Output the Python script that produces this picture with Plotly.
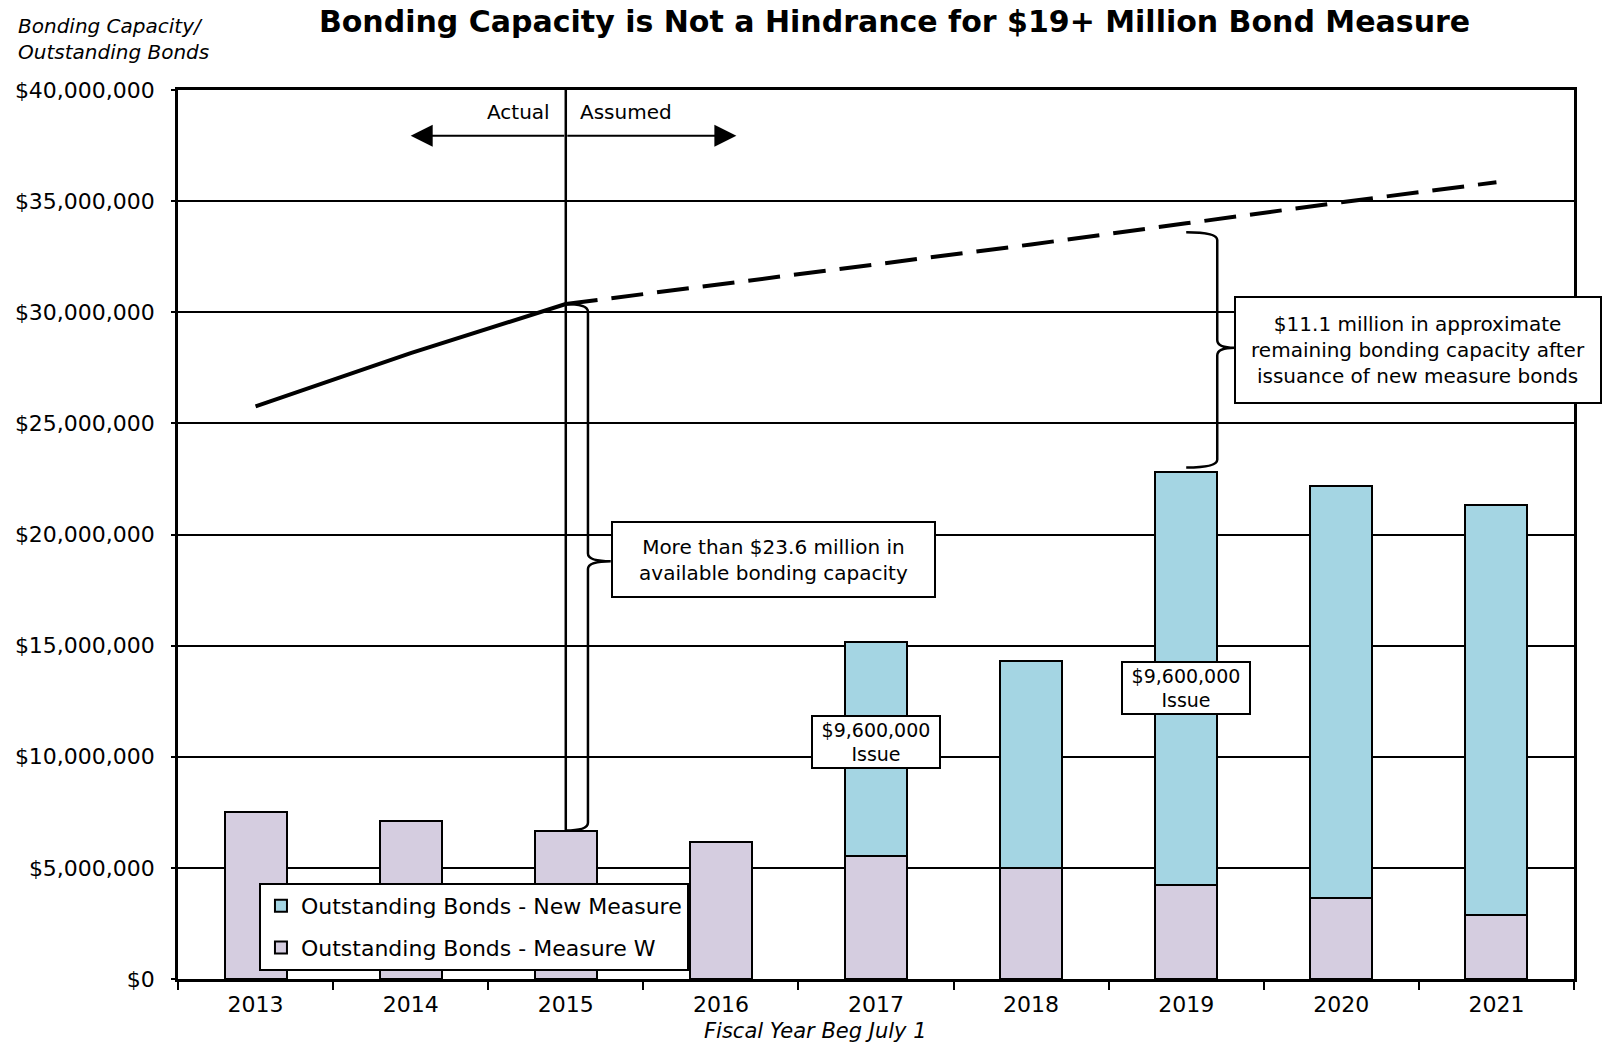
import plotly.graph_objects as go

# ---------------- data ----------------
years = ["2013", "2014", "2015", "2016", "2017", "2018", "2019", "2020", "2021"]
measure_w = [7.52e6, 7.12e6, 6.68e6, 6.18e6, 5.53e6, 4.98e6, 4.24e6, 3.64e6, 2.90e6]
new_measure = [None, None, None, None, 9.63e6, 9.35e6, 18.57e6, 18.53e6, 18.44e6]
capacity = [25.76e6, 28.16e6, 30.37e6, 31.25e6, 32.15e6, 33.05e6, 34.0e6, 34.95e6, 35.85e6]
y_ticks = [0, 5e6, 10e6, 15e6, 20e6, 25e6, 30e6, 35e6, 40e6]

FONT = "DejaVu Sans"
C_W = "#D5CDE0"
C_NEW = "#A4D5E3"

fig = go.Figure()

fig.add_trace(go.Bar(
    x=years, y=measure_w, name="Outstanding Bonds - Measure W",
    marker=dict(color=C_W, line=dict(color="black", width=2)),
    legendrank=2, legendgroup="w",
))
fig.add_trace(go.Bar(
    x=years, y=new_measure, name="Outstanding Bonds - New Measure",
    marker=dict(color=C_NEW, line=dict(color="black", width=2)),
    legendrank=1, legendgroup="n",
))
fig.add_trace(go.Scatter(
    x=years[:3], y=capacity[:3], mode="lines", showlegend=False,
    line=dict(color="black", width=4),
))
fig.add_trace(go.Scatter(
    x=years[2:], y=capacity[2:], mode="lines", showlegend=False,
    line=dict(color="black", width=4, dash="32px,14px"),
))

n = len(years)


def px_(i):
    # category index -> paper fraction
    return (i + 0.5) / n


def brace(xb, xh, xt, ytop, ybot, ymid):
    d = 0.35e6
    return (f"M {xh},{ytop} Q {xb},{ytop} {xb},{ytop - d} "
            f"L {xb},{ymid + d} Q {xb},{ymid} {xt},{ymid} "
            f"Q {xb},{ymid} {xb},{ymid - d} "
            f"L {xb},{ybot + d} Q {xb},{ybot} {xh},{ybot}")


totals = [(a or 0) + (b or 0) for a, b in zip(measure_w, new_measure)]

shapes = [
    # Actual / Assumed divider
    dict(type="line", xref="x", yref="y", x0=2, x1=2, y0=40e6, y1=measure_w[2],
         line=dict(color="black", width=2.5)),
    # brace 2015
    dict(type="path", xref="paper", yref="y",
         path=brace(px_(2.143), px_(2.0), px_(2.29), capacity[2], measure_w[2], 18.8e6),
         line=dict(color="black", width=2.5)),
    # brace 2019
    dict(type="path", xref="paper", yref="y",
         path=brace(px_(6.2), px_(6.0), px_(6.31), 33.6e6, totals[6] + 0.2e6, 28.4e6),
         line=dict(color="black", width=2.5)),
]

annotations = [
    dict(text="Actual", x=2, y=39.0e6, xref="x", yref="y", xanchor="right",
         xshift=-14, showarrow=False, font=dict(family=FONT, size=20, color="black")),
    dict(text="Assumed", x=2, y=39.0e6, xref="x", yref="y", xanchor="left",
         xshift=12, showarrow=False, font=dict(family=FONT, size=20, color="black")),
    dict(text="", x=1.0, y=37.94e6, ax=2, ay=37.94e6, xref="x", yref="y",
         axref="x", ayref="y", showarrow=True, arrowhead=2, arrowsize=2.2,
         arrowwidth=2, arrowcolor="black"),
    dict(text="", x=3.1, y=37.94e6, ax=2, ay=37.94e6, xref="x", yref="y",
         axref="x", ayref="y", showarrow=True, arrowhead=2, arrowsize=2.2,
         arrowwidth=2, arrowcolor="black"),
    dict(text="More than $23.6 million in<br>available bonding capacity",
         x=px_(2.29), y=18.86e6, xref="paper", yref="y", xanchor="left",
         showarrow=False, bgcolor="white", bordercolor="black", borderwidth=2,
         borderpad=4, width=313, height=65,
         font=dict(family=FONT, size=20, color="black")),
    dict(text="$11.1 million in approximate<br>remaining bonding capacity after<br>issuance of new measure bonds",
         x=px_(6.31), y=28.3e6, xref="paper", yref="y", xanchor="left",
         showarrow=False, bgcolor="white", bordercolor="black", borderwidth=2,
         borderpad=4, width=356, height=96,
         font=dict(family=FONT, size=20, color="black")),
    dict(text="$9,600,000<br>Issue", x=4, y=10.67e6, xref="x", yref="y",
         showarrow=False, bgcolor="white", bordercolor="black", borderwidth=2,
         borderpad=2, width=122, height=46,
         font=dict(family=FONT, size=19, color="black")),
    dict(text="$9,600,000<br>Issue", x=6, y=13.1e6, xref="x", yref="y",
         showarrow=False, bgcolor="white", bordercolor="black", borderwidth=2,
         borderpad=2, width=122, height=46,
         font=dict(family=FONT, size=19, color="black")),
    dict(text="<i>Bonding Capacity/<br>Outstanding Bonds</i>", x=-0.116, y=1.088,
         xref="paper", yref="paper", xanchor="left", yanchor="top", align="left",
         showarrow=False, font=dict(family=FONT, size=20, color="black")),
    dict(text="<i>Fiscal Year Beg July 1</i>", x=0.457, y=-0.058,
         xref="paper", yref="paper", xanchor="center", yanchor="middle",
         showarrow=False, font=dict(family=FONT, size=21, color="black")),
]

fig.update_layout(
    width=1606, height=1045,
    margin=dict(l=178, r=32, t=90, b=66),
    paper_bgcolor="white", plot_bgcolor="white",
    barmode="stack", bargap=0.6,
    title=dict(text="<b>Bonding Capacity is Not a Hindrance for $19+ Million Bond Measure</b>",
               x=0.557, xanchor="center", y=0.979, yanchor="middle",
               font=dict(family="DejaVu Sans", size=30, color="black")),
    font=dict(family=FONT, size=20, color="black"),
    showlegend=True,
    legend=dict(x=0.058, y=0.108, xanchor="left", yanchor="top",
                traceorder="grouped", tracegroupgap=10,
                bgcolor="white", bordercolor="black", borderwidth=2,
                font=dict(family=FONT, size=22, color="black")),
    shapes=shapes,
    annotations=annotations,
)

fig.update_xaxes(
    type="category", range=[-0.5, 8.5], tickson="boundaries",
    ticks="outside", ticklen=8, tickwidth=2, tickcolor="black",
    showline=True, linecolor="black", linewidth=3, mirror=True,
    showgrid=False, ticklabelstandoff=4,
    tickfont=dict(family=FONT, size=22, color="black"),
)
fig.update_yaxes(
    range=[0, 40e6], tickvals=y_ticks, tickformat="$,.0f",
    ticks="outside", ticklen=4, tickwidth=2, tickcolor="black",
    showline=True, linecolor="black", linewidth=2.5, mirror=True,
    showgrid=True, gridcolor="black", gridwidth=2, zeroline=False,
    ticklabelstandoff=12,
    tickfont=dict(family=FONT, size=22, color="black"),
)

fig.write_html("out.html")
